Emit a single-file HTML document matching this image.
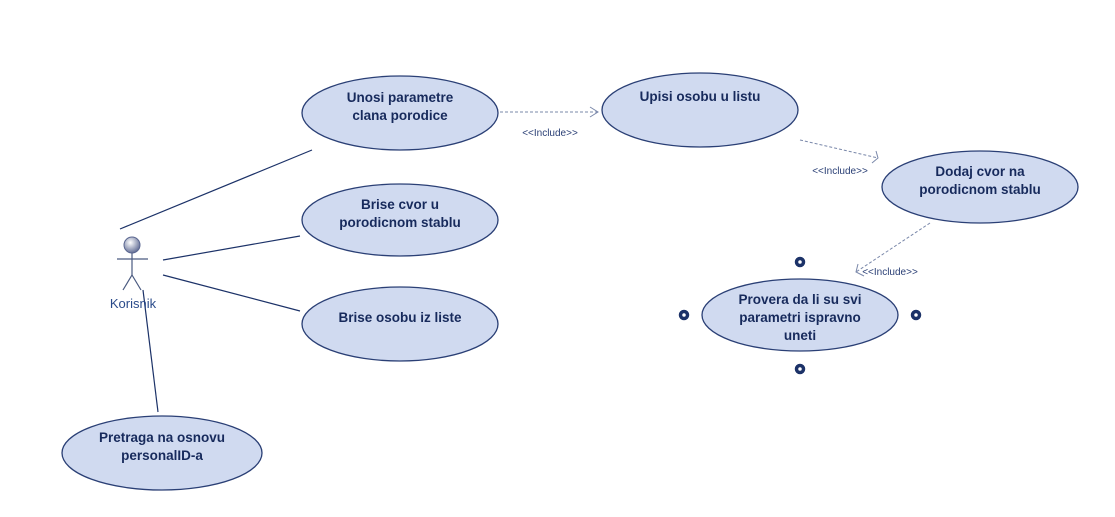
<!DOCTYPE html>
<html><head><style>body{margin:0;background:#fff}svg{display:block}text{font-family:"Liberation Sans",sans-serif}</style></head><body>
<svg width="1115" height="517" viewBox="0 0 1115 517">
<g fill="#d0daf0" stroke="#2a3f75" stroke-width="1.3">
<ellipse cx="400" cy="113" rx="98" ry="37"/>
<ellipse cx="400" cy="220" rx="98" ry="36"/>
<ellipse cx="400" cy="324" rx="98" ry="37"/>
<ellipse cx="162" cy="453" rx="100" ry="37"/>
<ellipse cx="700" cy="110" rx="98" ry="37"/>
<ellipse cx="980" cy="187" rx="98" ry="36"/>
<ellipse cx="800" cy="315" rx="98" ry="36"/>
</g>
<g fill="none" stroke="#1c3268" stroke-width="3.5">
<circle cx="800" cy="262" r="3.5"/><circle cx="684" cy="315" r="3.5"/><circle cx="916" cy="315" r="3.5"/><circle cx="800" cy="369" r="3.5"/>
</g>
<g stroke="#1c3268" stroke-width="1.2" fill="none">
<line x1="120" y1="229" x2="312" y2="150"/>
<line x1="163" y1="260" x2="300" y2="236"/>
<line x1="163" y1="275" x2="300" y2="311"/>
<line x1="143" y1="290" x2="158" y2="412"/>
</g>
<defs><radialGradient id="g" cx="0.4" cy="0.35" r="0.7"><stop offset="0" stop-color="#fff"/><stop offset="1" stop-color="#5a6690"/></radialGradient></defs>
<circle cx="132" cy="245" r="8" fill="url(#g)" stroke="#5a6690"/>
<g stroke="#4a5a80" stroke-width="1.2" fill="none">
<line x1="132" y1="253" x2="132" y2="275"/>
<line x1="117" y1="259" x2="148" y2="259"/>
<polyline points="123,290 132,275 141,290"/>
</g>
<text x="133" y="308" font-size="13" fill="#2a4a8a" text-anchor="middle">Korisnik</text>
<g stroke="#7a88aa" stroke-width="1" stroke-dasharray="3,2" fill="none">
<line x1="500" y1="112" x2="598" y2="112"/>
<line x1="800" y1="140" x2="878" y2="158"/>
<line x1="930" y1="223" x2="856" y2="272"/>
</g>
<g stroke="#7a88aa" stroke-width="1" fill="none">
<polyline points="590,107 598,112 590,117"/>
<polyline points="876,151 878,158 872,163"/>
<polyline points="858,264 856,272 864,276"/>
</g>
<g font-size="10" fill="#2a3f75" text-anchor="middle">
<text x="550" y="136">&lt;&lt;Include&gt;&gt;</text>
<text x="840" y="174">&lt;&lt;Include&gt;&gt;</text>
<text x="890" y="275">&lt;&lt;Include&gt;&gt;</text>
</g>
<g font-size="13.5" font-weight="bold" fill="#172a5c" text-anchor="middle">
<text x="400" y="102">Unosi parametre</text><text x="400" y="120">clana porodice</text>
<text x="400" y="209">Brise cvor u</text><text x="400" y="227">porodicnom stablu</text>
<text x="400" y="322">Brise osobu iz liste</text>
<text x="162" y="442">Pretraga na osnovu</text><text x="162" y="460">personalID-a</text>
<text x="700" y="101">Upisi osobu u listu</text>
<text x="980" y="176">Dodaj cvor na</text><text x="980" y="194">porodicnom stablu</text>
<text x="800" y="304">Provera da li su svi</text><text x="800" y="322">parametri ispravno</text><text x="800" y="340">uneti</text>
</g>
</svg>
</body></html>
